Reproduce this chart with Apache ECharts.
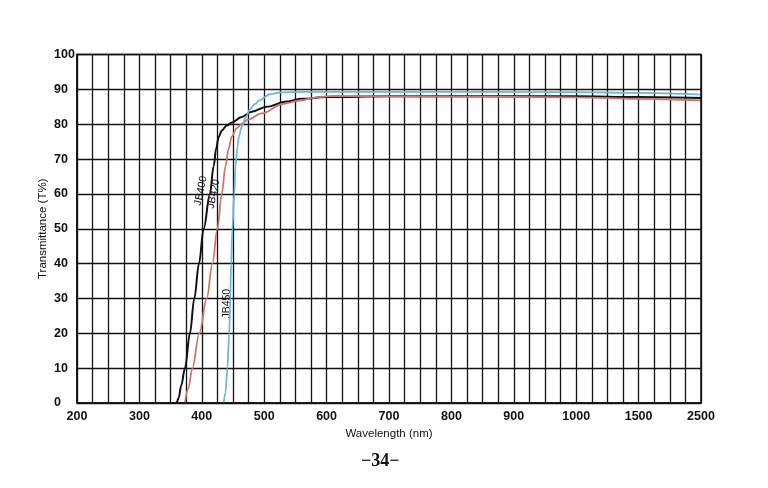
<!DOCTYPE html>
<html>
<head>
<meta charset="utf-8">
<script src="https://cdn.jsdelivr.net/npm/echarts@6/dist/echarts.min.js"></script>
<style>html,body{margin:0;padding:0;background:#fff;}#c{width:768px;height:488px;}</style>
</head>
<body>
<div id="c"></div>
<script>
// Tick labels (wavelength, nm) shown on the x axis
const xTickLabels = [200, 300, 400, 500, 600, 700, 800, 900, 1000, 1500, 2500];
const yTicks = [0, 10, 20, 30, 40, 50, 60, 70, 80, 90, 100];

// JB400 (black)
const jb400Wl = [360, 363, 367, 373, 381, 388, 395.5, 403, 413, 419, 423, 427, 432, 440, 448, 464, 480, 504, 536, 560, 600, 700, 800, 1000, 1500, 2500];
const jb400T  = [0, 1.5, 5, 10, 20, 30, 40, 50, 60, 68, 73, 76.3, 78.2, 79.6, 80.5, 82.1, 83.6, 85, 86.5, 87.3, 87.8, 88, 88, 88, 87.8, 87.5];

// JB420 (red)
const jb420Wl = [373, 378, 385, 396, 408, 417, 425, 432, 438, 443, 448, 456, 465, 474, 496, 530, 557, 584, 611, 700, 800, 1000, 1500, 2500];
const jb420T  = [0, 4, 10, 20, 30, 40, 50, 60, 68, 73, 76.5, 78.9, 80.2, 81.3, 83.1, 85.8, 86.8, 87.7, 88.1, 88, 87.9, 87.7, 87.3, 86.8];

// JB450 (blue)
const jb450Wl = [435, 438, 441, 444, 445.6, 447, 449, 452, 454, 457, 460, 464, 471, 477, 485, 493, 509, 525, 560, 700, 1000, 1500, 2500];
const jb450T  = [0, 3, 10, 20, 30, 40, 50, 60, 68, 73.5, 76.8, 79.3, 82.1, 84.2, 85.8, 86.9, 88.6, 89.1, 89.3, 89.3, 89.2, 89, 88.5];

// Curve name labels: [wavelength, transmittance]
const seriesNames = ['JB400', 'JB420', 'JB450'];
const labelAt = [[398.5, 60.9], [419, 60], [441, 28.5]];
const labelRot = [78, 78, 90];

// piecewise axis: 200-1000 linear (25 nm / cell), 1000-1500 (125 nm / cell), 1500-2500 (250 nm / cell)
function toCell(w) {
  if (w <= 1000) return (w - 200) / 25;
  if (w <= 1500) return 32 + (w - 1000) / 125;
  return 36 + (w - 1500) / 250;
}
const tickCells = {};
xTickLabels.forEach(w => { tickCells[Math.round(toCell(w))] = String(w); });

function pairs(wl, t) { return wl.map((w, i) => [toCell(w), t[i]]); }

const colors = ['#111111', '#c8786c', '#6cb8d6'];
const widths = [2, 1.8, 1.8];
const dataSets = [pairs(jb400Wl, jb400T), pairs(jb420Wl, jb420T), pairs(jb450Wl, jb450T)];

const chart = echarts.init(document.getElementById('c'), null, {renderer: 'canvas'});
chart.setOption({
  backgroundColor: '#ffffff',
  animation: false,
  grid: {left: 77, right: 67, top: 54.5, bottom: 85, show: false},
  xAxis: {
    type: 'value', min: 0, max: 40, interval: 1,
    name: 'Wavelength (nm)', nameLocation: 'middle', nameGap: 16,
    nameTextStyle: {fontFamily: 'Liberation Sans', fontSize: 11.5, color: '#111'},
    axisLine: {show: true, lineStyle: {color: '#111', width: 1.5}},
    axisTick: {show: false},
    axisLabel: {
      show: true, margin: 7, interval: 0, hideOverlap: false,
      fontFamily: 'Liberation Sans', fontWeight: 'bold', fontSize: 12.5, color: '#111',
      formatter: v => tickCells[Math.round(v)] !== undefined && Math.abs(v - Math.round(v)) < 1e-6 ? tickCells[Math.round(v)] : ''
    },
    splitLine: {show: true, lineStyle: {color: '#111', width: 1.3}}
  },
  yAxis: {
    type: 'value', min: 0, max: 100, interval: 10,
    name: 'Transmittance (T%)', nameLocation: 'middle', nameGap: 28, nameRotate: 90,
    nameMoveOverlap: false,
    nameTextStyle: {fontFamily: 'Liberation Sans', fontSize: 11.5, color: '#111'},
    axisLine: {show: true, lineStyle: {color: '#111', width: 1.5}},
    axisTick: {show: false},
    axisLabel: {
      margin: 23, align: 'left', verticalAlign: 'middle', padding: [0, 0, 5, 0],
      fontFamily: 'Liberation Sans', fontWeight: 'bold', fontSize: 12.5, color: '#111',
      formatter: v => yTicks.indexOf(v) >= 0 ? String(v) : ''
    },
    splitLine: {show: true, lineStyle: {color: '#111', width: 1.3}}
  },
  graphic: [
    {type: 'rect', shape: {x: 77, y: 54.5, width: 624, height: 348.5}, style: {fill: 'none', stroke: '#111', lineWidth: 1.5}, z: 10, silent: true},
    {type: 'text', left: 361, top: 452, style: {text: '\u221234\u2212', fontFamily: 'Liberation Serif', fontSize: 18, fontWeight: 'bold', fill: '#111'}}
  ],
  series: dataSets.map((d, i) => ({
    name: seriesNames[i], type: 'line', data: d, showSymbol: false, symbol: 'none',
    smooth: 0.35, smoothMonotone: 'x',
    lineStyle: {color: colors[i], width: widths[i]},
    z: 5 + i,
    markPoint: {
      symbol: 'circle', symbolSize: 0, silent: true,
      data: [{coord: [toCell(labelAt[i][0]), labelAt[i][1]]}],
      label: {show: true, position: 'inside', formatter: seriesNames[i], rotate: labelRot[i],
        fontFamily: 'Liberation Sans', fontSize: 10.5, color: '#111'}
    }
  }))
});
</script>
</body>
</html>
